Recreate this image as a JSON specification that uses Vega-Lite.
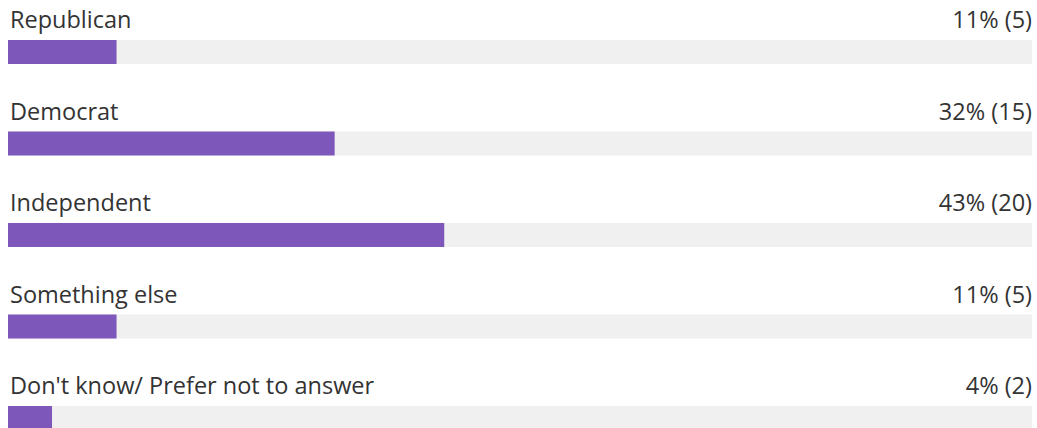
{
  "$schema": "https://vega.github.io/schema/vega-lite/v6.json",
  "width": 1037,
  "height": 428,
  "autosize": {"type": "fit", "contains": "padding"},
  "padding": {"left": 8, "right": 5, "top": 0, "bottom": 0},
  "background": "white",
  "config": {"view": {"stroke": null}},
  "data": {
    "values": [
      {"category": "Republican", "count": 5, "share": 0.106, "label": "11% (5)", "total": 1},
      {"category": "Democrat", "count": 15, "share": 0.319, "label": "32% (15)", "total": 1},
      {"category": "Independent", "count": 20, "share": 0.426, "label": "43% (20)", "total": 1},
      {"category": "Something else", "count": 5, "share": 0.106, "label": "11% (5)", "total": 1},
      {"category": "Don't know/ Prefer not to answer", "count": 2, "share": 0.043, "label": "4% (2)", "total": 1}
    ]
  },
  "encoding": {
    "y": {
      "field": "category",
      "type": "nominal",
      "sort": null,
      "axis": null,
      "scale": {"range": [6.25, 463.75], "paddingInner": 0, "paddingOuter": 0}
    }
  },
  "layer": [
    {
      "mark": {"type": "bar", "color": "#f0f0f0", "height": 24},
      "encoding": {
        "x": {"field": "total", "type": "quantitative", "axis": null, "scale": {"domain": [0, 1], "nice": false, "zero": true}}
      }
    },
    {
      "mark": {"type": "bar", "color": "#7e57ba", "height": 24},
      "encoding": {
        "x": {"field": "share", "type": "quantitative"}
      }
    },
    {
      "mark": {"type": "text", "align": "left", "baseline": "alphabetic", "dy": -24, "dx": 2, "font": "Open Sans", "fontSize": 23.5, "color": "#333333"},
      "encoding": {
        "x": {"datum": 0, "type": "quantitative"},
        "text": {"field": "category"}
      }
    },
    {
      "mark": {"type": "text", "align": "right", "baseline": "alphabetic", "dy": -24, "dx": 0, "font": "Open Sans", "fontSize": 23.5, "color": "#333333"},
      "encoding": {
        "x": {"field": "total", "type": "quantitative"},
        "text": {"field": "label"}
      }
    }
  ]
}
